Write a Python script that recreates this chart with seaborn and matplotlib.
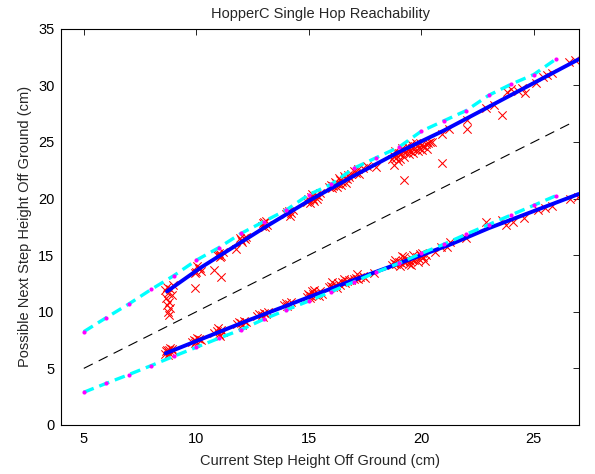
import numpy as np
import pandas as pd
import matplotlib
matplotlib.use("Agg")
import matplotlib.pyplot as plt
import seaborn as sns

# Measured landing heights after one hop: upper (max) and lower (min) branches
upper_x = [8.70, 8.85, 8.75, 8.90, 8.65, 8.80, 8.70, 8.85, 8.75, 8.80, 8.95, 8.60,
           9.95,
           10.00, 10.10, 10.20, 10.05, 10.15, 9.95, 10.80, 11.10,
           10.90, 11.00, 11.10, 11.20, 11.05, 10.95, 11.78,
           12.00, 12.10, 12.20, 12.05, 12.15, 11.95,
           12.90, 13.00, 13.10, 13.05, 12.95, 13.15,
           14.00, 14.10, 14.20, 14.30, 14.15, 14.05,
           14.90, 15.00, 15.10, 15.20, 15.30, 15.40, 15.50, 15.05, 15.25, 15.15, 14.95, 15.35,
           15.90, 16.00, 16.10, 16.20, 16.30, 16.40, 16.50, 16.60, 16.70, 16.80, 16.05, 16.25,
           16.45, 16.65, 16.35, 16.55, 16.15, 16.75, 16.90, 17.00, 17.10, 17.20, 17.40, 17.60,
           17.99, 17.25,
           18.70, 18.80, 18.90, 19.00, 19.10, 19.20, 19.30, 19.40, 19.50, 19.60, 19.70, 19.80,
           19.90, 20.00, 20.10, 20.20, 20.30, 20.40, 18.85, 19.05, 19.25, 19.45, 19.65, 19.85,
           20.05, 19.15, 19.55, 19.95, 20.25, 18.95, 19.35, 19.75,
           18.80, 19.24, 20.94,
           20.50, 20.94, 21.24, 22.05, 22.05, 22.87, 23.23, 23.60, 23.80, 24.00, 24.30, 24.50,
           24.60, 25.08, 25.40, 25.60, 25.82, 26.56, 26.85]
upper_y = [12.2, 12.0, 11.7, 11.5, 11.2, 10.9, 10.6, 10.3, 10.0, 9.7, 12.4, 11.9,
           12.1,
           13.5, 13.8, 13.6, 14.0, 13.9, 13.4, 13.7, 13.1,
           15.0, 15.2, 14.9, 15.3, 14.8, 15.1, 15.5,
           16.3, 16.5, 16.6, 16.2, 16.4, 16.5,
           17.6, 17.9, 18.0, 17.5, 17.8, 17.7,
           18.6, 18.9, 18.7, 19.0, 18.5, 18.8,
           19.7, 19.9, 20.1, 20.0, 20.3, 20.2, 20.5, 19.6, 19.8, 20.4, 20.0, 20.0,
           21.0, 21.2, 21.1, 21.4, 21.3, 21.6, 21.5, 21.8, 21.7, 21.9, 20.9, 21.0,
           21.2, 21.4, 21.8, 22.0, 21.5, 22.1, 22.2, 22.4, 22.3, 22.6, 22.7, 22.9,
           22.8, 22.2,
           23.5, 23.8, 23.6, 24.0, 23.9, 24.2, 24.1, 24.3, 24.2, 24.5, 24.4, 24.6,
           24.5, 24.7, 24.6, 24.8, 24.9, 25.0, 24.2, 23.5, 23.7, 23.9, 24.0, 24.2,
           24.3, 24.5, 24.8, 24.9, 24.4, 23.3, 24.6, 24.9,
           23.0, 21.6, 23.1,
           25.0, 25.7, 26.1, 26.1, 26.9, 28.0, 28.3, 27.4, 29.4, 29.7, 29.5, 29.8,
           29.3, 30.2, 30.7, 30.9, 31.1, 32.1, 32.2]

lower_x = [8.60, 8.70, 8.80, 8.90, 8.75, 8.85, 8.95, 8.65, 8.80,
           9.80, 9.90, 10.00, 10.10, 10.20, 9.95, 10.05,
           10.80, 10.90, 11.00, 11.10, 11.20, 10.95, 11.05,
           11.80, 11.90, 12.00, 12.10, 12.20, 12.05,
           12.70, 12.80, 12.90, 13.00, 13.10, 13.20, 12.95,
           13.90, 14.00, 14.10, 14.20, 14.05,
           14.90, 15.00, 15.10, 15.20, 15.30, 15.40, 15.50, 15.60, 15.05, 15.25, 15.15, 15.45, 14.95,
           15.90, 16.00, 16.10, 16.20, 16.30, 16.40, 16.50, 16.60, 16.70, 16.80, 16.25, 16.55,
           16.05, 16.90, 17.00, 17.10, 17.20, 17.30, 17.40, 17.50, 17.15, 17.90,
           18.70, 18.80, 18.90, 19.00, 19.10, 19.20, 19.30, 19.40, 19.50, 19.60, 19.70, 19.80,
           19.90, 20.00, 20.10, 20.20, 18.85, 19.05, 19.25, 19.45, 19.65, 19.85, 20.05, 19.15,
           19.55, 19.95, 20.15,
           20.60, 20.90, 21.15, 21.30, 21.98, 22.90, 23.60, 23.75, 24.10, 24.56, 25.20, 25.50,
           25.80, 26.60, 26.95]
lower_y = [6.3, 6.6, 6.4, 6.7, 6.2, 6.8, 6.5, 6.5, 6.6,
           7.3, 7.5, 7.4, 7.6, 7.5, 7.2, 7.7,
           8.1, 8.3, 8.0, 8.4, 8.2, 8.6, 7.9,
           8.9, 9.1, 9.0, 9.2, 9.1, 8.8,
           9.6, 9.8, 9.7, 9.9, 9.8, 10.0, 9.5,
           10.6, 10.8, 10.7, 10.9, 10.5,
           11.3, 11.5, 11.4, 11.6, 11.5, 11.7, 11.8, 11.6, 11.2, 11.9, 11.8, 11.4, 11.6,
           12.2, 12.3, 12.2, 12.4, 12.5, 12.4, 12.6, 12.5, 12.7, 12.8, 12.1, 12.9,
           12.6, 12.8, 12.9, 13.0, 12.9, 13.1, 13.2, 13.0, 13.3, 13.4,
           14.1, 14.3, 14.2, 14.4, 14.3, 14.5, 14.4, 14.6, 14.5, 14.7, 14.6, 14.8,
           14.7, 14.9, 14.8, 15.0, 14.6, 14.0, 14.8, 14.2, 15.0, 14.4, 15.2, 14.9,
           14.1, 15.1, 14.5,
           15.3, 15.75, 15.75, 16.2, 16.5, 17.96, 18.1, 17.67, 17.96, 18.26, 18.99, 19.13,
           19.3, 20.0, 20.17]

# Fitted reachability curves through the measurements
fit_x = [8.7, 10.2, 13.0, 15.0, 17.0, 19.0, 21.0, 23.0, 25.0, 27.0]
fit_upper_y = [11.8, 13.9, 17.4, 19.8, 22.0, 24.1, 26.0, 28.1, 30.2, 32.3]
fit_lower_x = [8.64, 12.36, 16.8, 21.24, 23.0, 27.0]
fit_lower_y = [6.33, 9.28, 12.66, 15.9, 17.38, 20.4]

# Model predictions at integer start heights
model_x = [5, 6, 7, 8, 9, 10, 11, 12, 13, 14, 15, 16, 17, 18, 19, 20, 21, 22, 23, 24, 25, 26]
model_upper_y = [8.24, 9.48, 10.69, 11.98, 13.19, 14.55, 15.66, 16.93, 17.96, 18.99, 20.34,
                 21.26, 22.67, 23.61, 24.53, 25.94, 26.86, 27.77, 29.12, 30.10, 30.95, 32.33]
model_lower_y = [2.89, 3.68, 4.45, 5.25, 6.07, 6.86, 7.66, 8.42, 9.34, 10.16, 10.95,
                 11.78, 12.63, 13.49, 14.28, 15.15, 15.96, 16.85, 17.70, 18.55, 19.40, 20.26]

# Reference line: next step equal to current step
same_x = [5, 26.6]
same_y = [5, 26.6]

x_ticks = [5, 10, 15, 20, 25]
y_ticks = [0, 5, 10, 15, 20, 25, 30, 35]

sns.set_style("white")
plt.rcParams["font.family"] = ["Liberation Sans", "DejaVu Sans"]

fig = plt.figure(figsize=(5.95, 4.74), dpi=100)
ax = fig.add_axes([61.3 / 595, 1 - 425 / 474, (578.7 - 61.3) / 595, (425 - 28.7) / 474])

meas = pd.DataFrame({"x": upper_x + lower_x, "y": upper_y + lower_y})
sns.scatterplot(data=meas, x="x", y="y", marker="x", color="red", s=36,
                linewidth=0.75, ax=ax, zorder=2)

for fx, fy in [(fit_x, fit_upper_y), (fit_lower_x, fit_lower_y)]:
    sns.lineplot(x=fx, y=fy, sort=False, estimator=None, color="#0000ff",
                 linewidth=2.8, ax=ax, zorder=3)

for my in [model_upper_y, model_lower_y]:
    sns.lineplot(x=model_x, y=my, sort=False, estimator=None, color="#00ffff",
                 linewidth=2.4, linestyle=(0, (3.2, 1.8)), ax=ax, zorder=4)
    sns.scatterplot(x=model_x, y=my, color="#ff00ff", s=9, linewidth=0,
                    ax=ax, zorder=5)

sns.lineplot(x=same_x, y=same_y, sort=False, estimator=None, color="black",
             linewidth=0.8, linestyle=(0, (9, 6)), ax=ax, zorder=6)

ax.set_xlim(4, 27)
ax.set_ylim(0, 35)
ax.set_xticks(x_ticks)
ax.set_yticks(y_ticks)
ax.tick_params(direction="in", length=4, width=0.6, top=True, right=True,
               labelsize=10.5, colors="black", pad=5)
for sp in ax.spines.values():
    sp.set_color("black")
    sp.set_linewidth(0.8)
    sp.set_visible(True)

ax.set_xlabel("Current Step Height Off Ground (cm)", fontsize=10.5, labelpad=6)
ax.set_ylabel("Possible Next Step Height Off Ground (cm)", fontsize=10.5, labelpad=4)
ax.set_title("HopperC Single Hop Reachability", fontsize=10.5, pad=8)

fig.savefig("out.png", dpi=100)
